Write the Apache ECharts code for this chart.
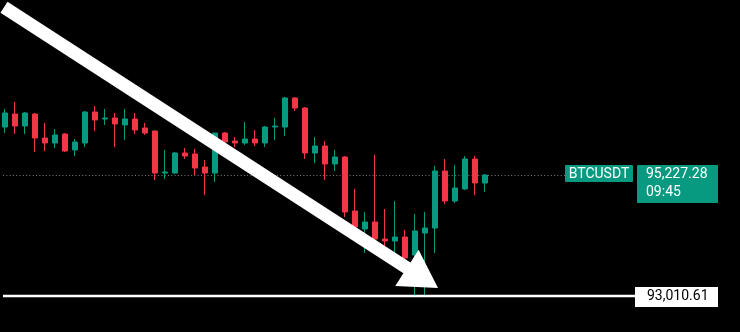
<!DOCTYPE html>
<html><head><meta charset="utf-8">
<script src="https://cdn.jsdelivr.net/npm/echarts@6/dist/echarts.min.js"></script>
<style>html,body{margin:0;padding:0;background:#000;}#c{width:740px;height:332px;}</style>
</head><body><div id="c"></div>
<script>
// OHLC values (BTCUSDT)
const opens = [96106.6, 96344.8, 96124.9, 96344.8, 95905.1, 95813.5, 95978.4, 95685.3, 95813.5, 96381.4,
  96253.2, 96271.5, 96143.3, 96253.2, 96088.3, 96033.3, 95263.9, 95263.9, 95630.3, 95612.0,
  95373.8, 95263.9, 95996.7, 95850.1, 95813.5, 95886.8, 95813.5, 96106.6, 96106.6, 96637.9,
  96454.7, 95630.3, 95758.5, 95428.8, 95557.0, 94567.8, 94238.0, 94366.3, 94054.8, 94018.2,
  94091.5, 93761.7, 94164.7, 94256.3, 95300.6, 94751.0, 94970.8, 95520.4, 95080.7];
const closes = [96363.1, 96124.9, 96363.1, 95905.1, 95813.5, 95960.1, 95666.9, 95831.8, 96381.4, 96234.9,
  96271.5, 96161.6, 96253.2, 96051.7, 95996.7, 95263.9, 95282.2, 95630.3, 95575.4, 95355.5,
  95263.9, 95996.7, 95831.8, 95813.5, 95886.8, 95813.5, 96106.6, 96124.9, 96637.9, 96454.7,
  95630.3, 95758.5, 95428.8, 95557.0, 94549.5, 94274.7, 94366.3, 94054.8, 94018.2, 94091.5,
  93706.8, 94201.4, 94256.3, 95300.6, 94751.0, 94989.1, 95520.4, 95080.7, 95227.28];
const lows = [95996.7, 95978.4, 95978.4, 95648.6, 95666.9, 95721.9, 95648.6, 95575.4, 95740.2, 96033.3,
  96143.3, 95740.2, 95868.5, 95978.4, 95960.1, 95135.7, 95154.0, 95245.6, 95520.4, 95227.3,
  94860.9, 95099.0, 95776.9, 95740.2, 95776.9, 95758.5, 95740.2, 95868.5, 95941.7, 96399.7,
  95520.4, 95447.1, 95135.7, 95300.6, 94457.9, 94219.7, 93798.4, 94018.2, 93853.3, 93798.4,
  93633.5, 93012.0, 93012.0, 93798.4, 94696.0, 94714.3, 94952.5, 94860.9, 94915.9];
const highs = [96436.4, 96564.6, 96381.4, 96363.1, 96179.9, 96070.0, 95996.7, 95886.8, 96399.7, 96491.3,
  96436.4, 96363.1, 96436.4, 96363.1, 96179.9, 96040.0, 95685.3, 95648.6, 95721.9, 95703.6,
  95502.1, 95996.7, 96015.0, 95923.4, 96198.2, 96051.7, 96124.9, 96271.5, 96656.2, 96656.2,
  96473.0, 95923.4, 95850.1, 95685.3, 95575.4, 94970.8, 94549.5, 95593.7, 94604.4, 94751.0,
  94219.7, 94512.8, 94549.5, 95392.2, 95520.4, 95410.5, 95575.4, 95575.4, 95245.6];

const symbolName = 'BTCUSDT';
const lastPrice = 95227.28;
const lastPriceText = '95,227.28';
const countdownText = '09:45';
const supportPrice = 93010.61;
const supportText = '93,010.61';
// annotation arrow anchored in data space: [candle index, price]
const arrowTail = [-0.1, 98300];
const arrowTip = [43.3, 93157];

const slotCount = 74; // visible candle slots incl. empty right margin
const categories = Array.from({length: slotCount}, (_, i) => String(i));
const candleData = opens.map((o, i) => [o, closes[i], lows[i], highs[i]]);

const UP = '#089981', DOWN = '#F23645';
const chart = echarts.init(document.getElementById('c'), null, {renderer: 'canvas'});
const option = {
  backgroundColor: '#000000',
  animation: false,
  grid: {left: -1.03, top: 0, width: 744.44, height: 332, containLabel: false},
  xAxis: {type: 'category', data: categories, show: false, boundaryGap: true},
  yAxis: {type: 'value', min: 92351.1, max: 98433.2, show: false, scale: true},
  series: [{
    type: 'candlestick',
    data: candleData,
    barWidth: 6,
    z: 2,
    itemStyle: {color: UP, color0: DOWN, borderColor: UP, borderColor0: DOWN, borderWidth: 1}
  }]
};
chart.setOption(option);

function px(idx, price) {
  const a = chart.convertToPixel({gridIndex: 0}, [0, price]);
  const b = chart.convertToPixel({gridIndex: 0}, [1, price]);
  return [a[0] + (b[0] - a[0]) * idx, a[1]];
}
const yLast = Math.round(px(0, lastPrice)[1]) + 0.5;
const ySup = px(0, supportPrice)[1];

// arrow polygon
const T = px(arrowTail[0], arrowTail[1]);
const P = px(arrowTip[0], arrowTip[1]);
const dx = P[0] - T[0], dy = P[1] - T[1], L = Math.hypot(dx, dy);
const u = [dx / L, dy / L], n = [-u[1], u[0]];
const hw = 6.5, hl = 37, hh = 21.5;
const B = [P[0] - u[0] * hl, P[1] - u[1] * hl];
const pt = (base, k) => [base[0] + n[0] * k, base[1] + n[1] * k];
const arrowPts = [pt(T, -hw), pt(B, -hw), pt(B, -hh), P, pt(B, hh), pt(B, hw), pt(T, hw)];

const font = '14px Roboto';
chart.setOption({
  graphic: [
    {type: 'line', z: 1, shape: {x1: 3, y1: yLast, x2: 565, y2: yLast},
      style: {stroke: '#7d7d7d', lineWidth: 1, lineDash: [1, 2.3]}},
    {type: 'line', z: 5, shape: {x1: 3, y1: ySup, x2: 636, y2: ySup},
      style: {stroke: '#ffffff', lineWidth: 2.5}},
    {type: 'polygon', z: 10, shape: {points: arrowPts}, style: {fill: '#ffffff'}},
    {type: 'rect', z: 20, shape: {x: 565, y: yLast - 10.5, width: 68, height: 17, r: 1}, style: {fill: UP}},
    {type: 'text', z: 21, x: 599, y: yLast - 1.5,
      style: {text: symbolName, fill: '#ffffff', font: font, align: 'center', verticalAlign: 'middle'}},
    {type: 'rect', z: 20, shape: {x: 637, y: yLast - 10.5, width: 81, height: 38, r: 1}, style: {fill: UP}},
    {type: 'text', z: 21, x: 646, y: yLast - 1,
      style: {text: lastPriceText, fill: '#ffffff', font: font, align: 'left', verticalAlign: 'middle'}},
    {type: 'text', z: 21, x: 646, y: yLast + 16.5,
      style: {text: countdownText, fill: '#ffffff', font: font, align: 'left', verticalAlign: 'middle'}},
    {type: 'rect', z: 20, shape: {x: 635, y: ySup - 9, width: 83, height: 20}, style: {fill: '#ffffff'}},
    {type: 'text', z: 21, x: 647, y: ySup + 1,
      style: {text: supportText, fill: '#000000', font: font, align: 'left', verticalAlign: 'middle'}}
  ]
});
</script>
</body></html>
